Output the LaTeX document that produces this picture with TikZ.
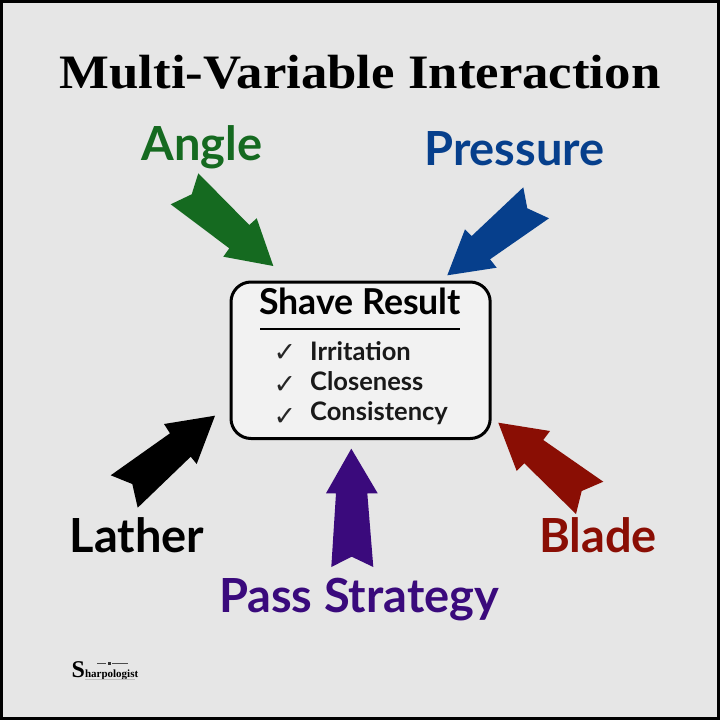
\documentclass[tikz,border=0pt]{standalone}
\usepackage{fontspec}
\setmainfont{Lato}
\newfontfamily\titlefont{Liberation Serif}
\newfontfamily\symfont{DejaVu Sans}
\definecolor{bgc}{HTML}{E6E6E6}
\definecolor{boxc}{HTML}{F2F2F2}
\definecolor{gre}{HTML}{156A20}
\definecolor{blu}{HTML}{063F8C}
\definecolor{pur}{HTML}{3A0A7C}
\definecolor{redd}{HTML}{8A0E04}
\tikzset{x=1pt,y=-1pt,
 label/.style={font=\fontsize{47}{47}\selectfont\bfseries,inner sep=0pt,anchor=base},
 item/.style={font=\fontsize{25.5}{25.5}\selectfont\bfseries,inner sep=0pt,anchor=base west,text=black!90},
 tick/.style={font=\symfont\fontsize{27}{27}\selectfont,inner sep=0pt,anchor=base,text=black!85}}
\begin{document}
\begin{tikzpicture}
\useasboundingbox (0,0) rectangle (720,720);
\fill[black] (0,0) rectangle (720,720);
\fill[bgc] (3,3) rectangle (717,717);
\node[inner sep=0pt,anchor=base] (title) at (360,88) {\scalebox{1.1}[1]{\titlefont\fontsize{48}{48}\selectfont\bfseries Multi-Variable Interaction}};
\node[label,text=gre] (angle) at (202,160) {Angle};
\node[label,text=blu] (pressure) at (514.5,165) {Pressure};
\node[label,text=black] (lather) at (137,552) {Lather};
\node[label,text=redd] (blade) at (598,552) {Blade};
\node[label,text=pur] (pass) at (359,612) {Pass Strategy};
\fill[gre] (198.3,173.3)--(191.7,194.3)--(170.7,204.3)--(229.3,248.3)--(223.3,256.7)--(273.3,266)--(256.7,218.3)--(249.3,225)--cycle;
\fill[blu] (523.3,187.3)--(527.3,208.3)--(549,218.3)--(490,259.3)--(496.7,267.7)--(447.3,275.3)--(465,229.3)--(471.7,236)--cycle;
\fill[black] (215,415.7)--(196.7,464)--(190.7,456.7)--(137.7,507.7)--(132.3,484)--(110.7,475.3)--(170,433.3)--(164,424)--cycle;
\fill[pur] (351.3,448.7)--(377.7,493.3)--(367.3,493.3)--(373.3,567)--(351.7,556.7)--(331.3,567)--(336,493.3)--(326,493.3)--cycle;
\fill[redd] (498.3,422.7)--(550,431)--(543.3,440)--(603.3,481.7)--(581.7,491)--(576,514)--(524.3,463.3)--(516.7,471)--cycle;
\draw[line width=3pt,fill=boxc,rounded corners=20pt] (231,282) rectangle (490.2,438.5);
\node[inner sep=0pt,anchor=base] (result) at (360,314) {\fontsize{35.7}{35.7}\selectfont\bfseries Shave Result};
\draw[line width=2pt] (260,328.5) -- (460,328.5);
\node[item] (i1) at (310,360.5) {Irritation};
\node[item] (i2) at (310,390.5) {Closeness};
\node[item] (i3) at (310,420) {Consistency};
\node[tick] (t1) at (285,361) {✓};
\node[tick] (t2) at (285,393) {✓};
\node[tick] (t3) at (285,425) {✓};
\node[inner sep=0pt,anchor=base west] (logo) at (71.5,677) {\titlefont\bfseries\fontsize{24}{24}\selectfont S\fontsize{11}{11}\selectfont harpologist};
\draw[line width=0.5pt,black!70] (97,663) -- (106,663) (112,663) -- (128,663);
\fill[black!80] (107.5,661.5) rectangle (110.5,664.5);
\draw[line width=0.6pt,black!25] (85,679.5) -- (135,679.5);
\end{tikzpicture}
\end{document}
